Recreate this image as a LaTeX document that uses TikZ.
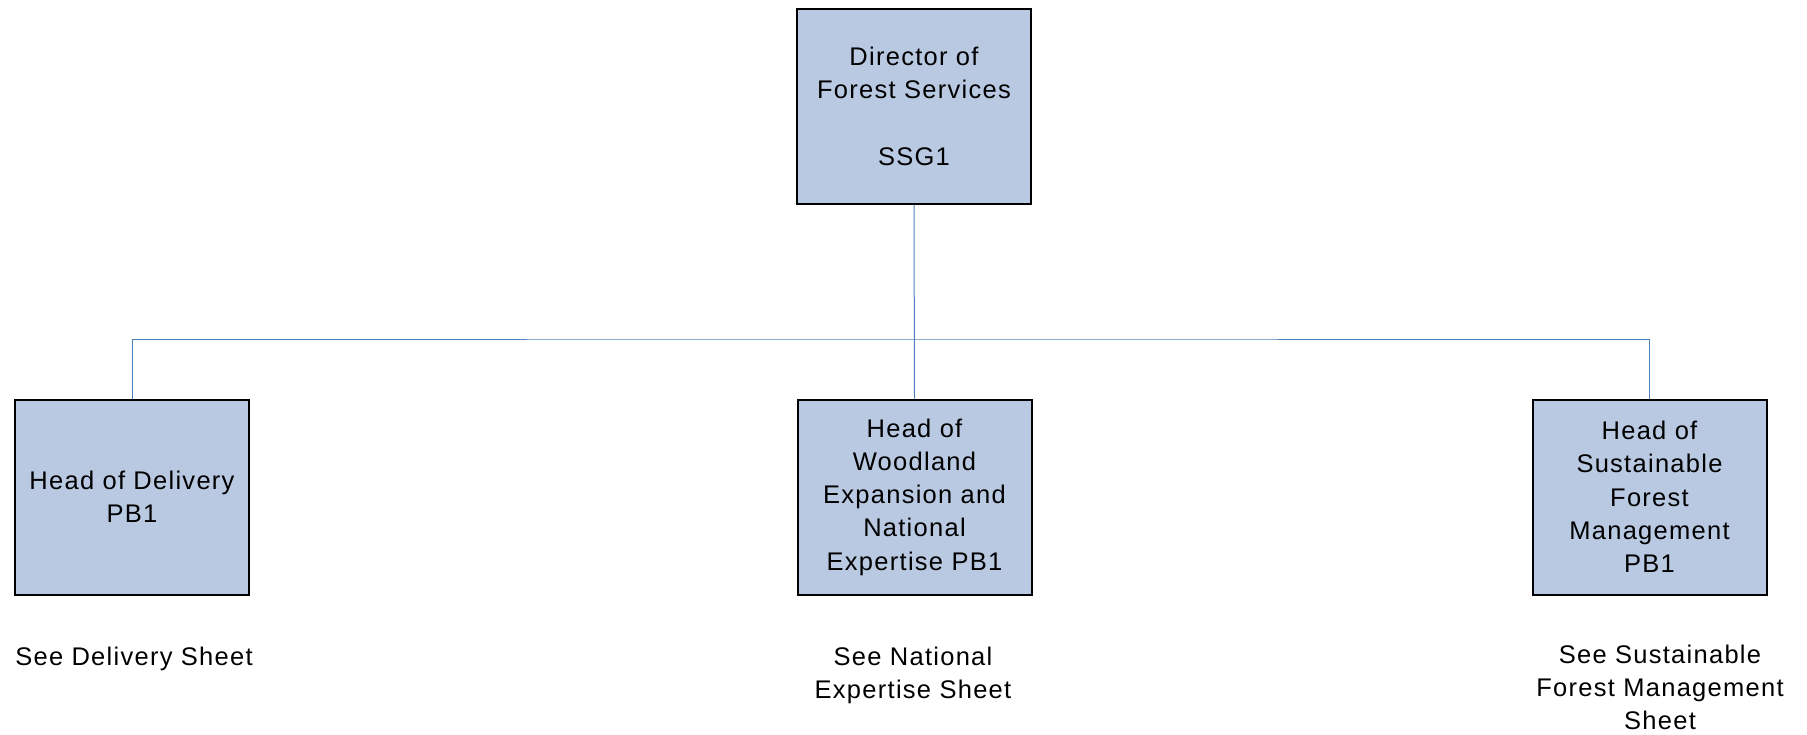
\documentclass[tikz,border=0pt]{standalone}
\usepackage{fontspec}
\setmainfont{Liberation Sans}[LetterSpace=5]
\definecolor{boxfill}{RGB}{185,201,226}
\definecolor{linkblue}{RGB}{79,129,189}
\begin{document}
\begin{tikzpicture}[x=1pt,y=-1pt,
  every node/.style={font=\fontsize{25.5}{33.3}\selectfont, align=center, inner sep=0pt},
  rolebox/.style={draw=black, line width=2pt, fill=boxfill, minimum width=234pt, minimum height=195pt},
  link/.style={draw=linkblue, line width=1pt}]
\useasboundingbox (0,0) rectangle (1807,734);
\node[rolebox] (dir) at (914,106) {Director of\\Forest Services\\ \\SSG1};
\node[rolebox] (del) at (132,497) {Head of Delivery\\PB1};
\node[rolebox] (woo) at (914.5,497) {Head of\\Woodland\\Expansion and\\National\\Expertise PB1};
\node[rolebox] (sfm) at (1649.5,497) {Head of\\Sustainable\\Forest\\Management\\PB1};
\coordinate (bus) at (914,339);
\draw[link] (dir.south) -- (woo.north);
\draw[link] (del.north) |- (bus) -| (sfm.north);
\node[anchor=base] (sdel) at (134,665) {See Delivery Sheet};
\node[anchor=north] (swoo) at (913,646.5) {See National\\Expertise Sheet};
\node[anchor=north] (ssfm) at (1660,644.5) {See Sustainable\\Forest Management\\Sheet};
\end{tikzpicture}
\end{document}
